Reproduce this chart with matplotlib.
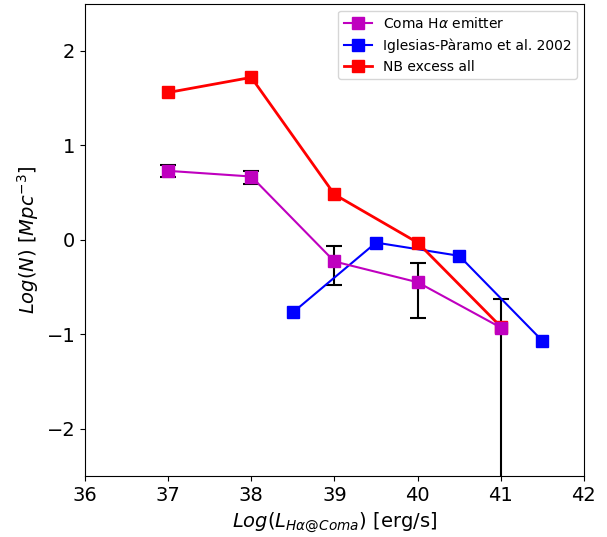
import numpy as np
import matplotlib.pyplot as plt

# Coma H-alpha emitters with asymmetric errors
coma_x = [37, 38, 39, 40, 41]
coma_y = [0.73, 0.67, -0.23, -0.45, -0.93]
coma_err_lo = [0.07, 0.08, 0.25, 0.38, 2.5]
coma_err_hi = [0.06, 0.06, 0.16, 0.20, 0.30]

# Iglesias-Paramo et al. 2002
ip_x = [38.5, 39.5, 40.5, 41.5]
ip_y = [-0.77, -0.03, -0.17, -1.07]

# NB excess, all sources
nb_x = [37, 38, 39, 40, 41]
nb_y = [1.56, 1.72, 0.48, -0.03, -0.92]

fig = plt.figure(figsize=(6.07, 5.37), dpi=100)
ax = fig.add_axes([0.14, 0.114, 0.822, 0.879])

ax.plot(coma_x, coma_y, 's-', color='m', lw=1.5, ms=8, label=r'Coma H$\alpha$ emitter', zorder=4)
ax.errorbar(coma_x, coma_y, yerr=[coma_err_lo, coma_err_hi], fmt='none',
            ecolor='k', elinewidth=1.5, capsize=6, capthick=1.5, zorder=2)
ax.plot(ip_x, ip_y, 's-', color='b', lw=1.5, ms=8, label=u'Iglesias-P\u00e0ramo et al. 2002', zorder=3)
ax.plot(nb_x, nb_y, 's-', color='r', lw=2, ms=8, label='NB excess all', zorder=3)

ax.set_xlim(36, 42)
ax.set_ylim(-2.5, 2.5)
ax.set_xticks(np.arange(36, 43, 1))
ax.set_yticks([-2, -1, 0, 1, 2])
ax.tick_params(labelsize=14)
ax.set_xlabel(r'$Log(L_{H\alpha@Coma})$ [erg/s]', fontsize=14)
ax.set_ylabel(r'$Log(N)\ [Mpc^{-3}]$', fontsize=14)
ax.legend(loc='upper right', fontsize=10)

fig.savefig('out.png', dpi=100)
